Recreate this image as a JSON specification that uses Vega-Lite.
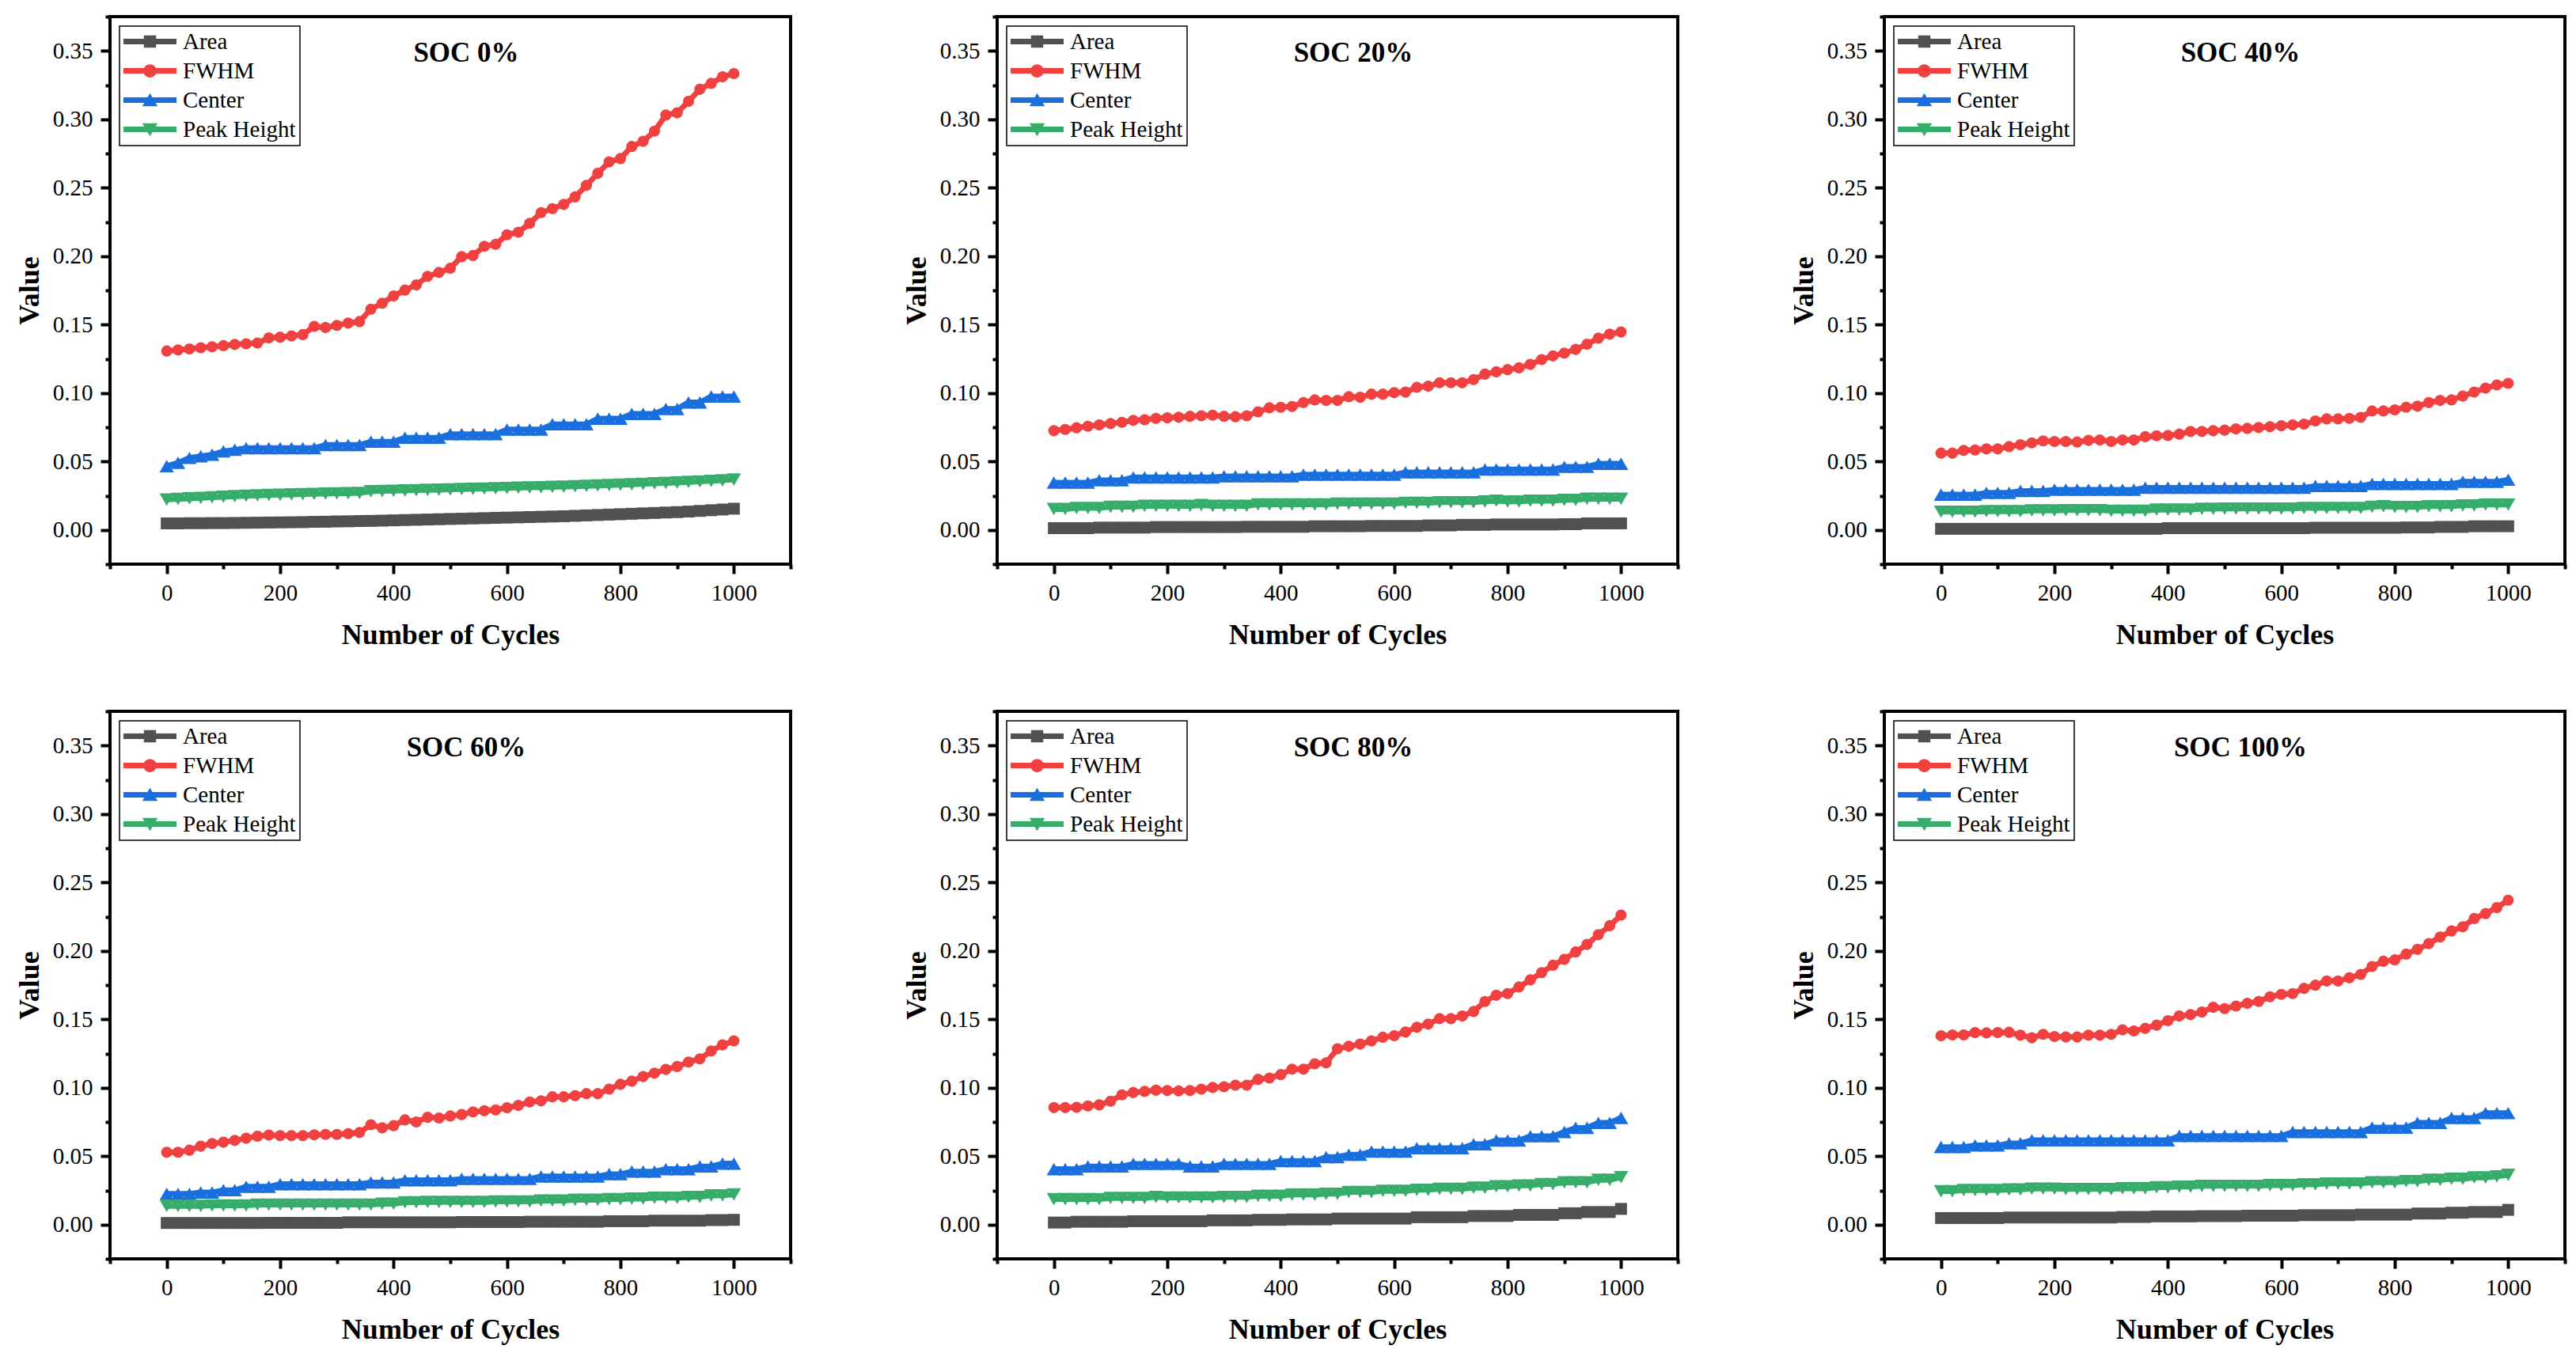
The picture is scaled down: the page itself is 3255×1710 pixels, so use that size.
{
  "$schema": "https://vega.github.io/schema/vega-lite/v6.json",
  "background": "white",
  "padding": {"left": 17, "top": 17, "right": 5, "bottom": 5},
  "config": {
    "font": "Liberation Serif",
    "view": {"stroke": "black", "strokeWidth": 4},
    "line": {"strokeWidth": 7},
    "axis": {
      "domain": false, "grid": false,
      "tickColor": "black", "tickWidth": 4, "tickSize": 12,
      "labelFont": "Liberation Serif", "labelFontSize": 29, "labelColor": "black",
      "labelPadding": 10, "labelFlush": false, "labelOverlap": false,
      "titleFont": "Liberation Serif", "titleFontSize": 36, "titleFontWeight": "bold", "titleColor": "black"
    },
    "axisX": {"titlePadding": 21},
    "axisY": {"titlePadding": 10},
    "legend": {
      "orient": "top-left", "offset": 12, "padding": 5,
      "strokeColor": "black", "strokeWidth": 1.5, "fillColor": "white",
      "labelFont": "Liberation Serif", "labelFontSize": 29, "labelColor": "black",
      "labelOffset": 8, "labelLimit": 400, "symbolSize": 4489, "symbolStrokeWidth": 0,
      "clipHeight": 29, "rowPadding": 7
    },
    "title": {"font": "Liberation Serif", "fontSize": 35, "fontWeight": "bold", "color": "black", "anchor": "middle", "offset": -66, "dx": 20}
  },
  "datasets": {
    "p0_area": [{"cycle":0,"value":0.0048},{"cycle":20,"value":0.0048},{"cycle":40,"value":0.0049},{"cycle":60,"value":0.0049},{"cycle":80,"value":0.0050},{"cycle":100,"value":0.0050},{"cycle":120,"value":0.0051},{"cycle":140,"value":0.0052},{"cycle":160,"value":0.0053},{"cycle":180,"value":0.0054},{"cycle":200,"value":0.0055},{"cycle":220,"value":0.0056},{"cycle":240,"value":0.0057},{"cycle":260,"value":0.0059},{"cycle":280,"value":0.0060},{"cycle":300,"value":0.0062},{"cycle":320,"value":0.0063},{"cycle":340,"value":0.0065},{"cycle":360,"value":0.0066},{"cycle":380,"value":0.0068},{"cycle":400,"value":0.0070},{"cycle":420,"value":0.0072},{"cycle":440,"value":0.0074},{"cycle":460,"value":0.0076},{"cycle":480,"value":0.0078},{"cycle":500,"value":0.0080},{"cycle":520,"value":0.0082},{"cycle":540,"value":0.0084},{"cycle":560,"value":0.0086},{"cycle":580,"value":0.0088},{"cycle":600,"value":0.0090},{"cycle":620,"value":0.0092},{"cycle":640,"value":0.0094},{"cycle":660,"value":0.0096},{"cycle":680,"value":0.0098},{"cycle":700,"value":0.0100},{"cycle":720,"value":0.0103},{"cycle":740,"value":0.0106},{"cycle":760,"value":0.0109},{"cycle":780,"value":0.0112},{"cycle":800,"value":0.0115},{"cycle":820,"value":0.0118},{"cycle":840,"value":0.0121},{"cycle":860,"value":0.0124},{"cycle":880,"value":0.0127},{"cycle":900,"value":0.0130},{"cycle":920,"value":0.0134},{"cycle":940,"value":0.0139},{"cycle":960,"value":0.0144},{"cycle":980,"value":0.0149},{"cycle":1000,"value":0.0155}],
    "p0_fwhm": [{"cycle":0,"value":0.1307},{"cycle":20,"value":0.1315},{"cycle":40,"value":0.1322},{"cycle":60,"value":0.1331},{"cycle":80,"value":0.1338},{"cycle":100,"value":0.1346},{"cycle":120,"value":0.1355},{"cycle":140,"value":0.1360},{"cycle":160,"value":0.1365},{"cycle":180,"value":0.1403},{"cycle":200,"value":0.1408},{"cycle":220,"value":0.1417},{"cycle":240,"value":0.1427},{"cycle":260,"value":0.1487},{"cycle":280,"value":0.1479},{"cycle":300,"value":0.1494},{"cycle":320,"value":0.1511},{"cycle":340,"value":0.1522},{"cycle":360,"value":0.1613},{"cycle":380,"value":0.1656},{"cycle":400,"value":0.1709},{"cycle":420,"value":0.1752},{"cycle":440,"value":0.1790},{"cycle":460,"value":0.1852},{"cycle":480,"value":0.1881},{"cycle":500,"value":0.1912},{"cycle":520,"value":0.1996},{"cycle":540,"value":0.2005},{"cycle":560,"value":0.2072},{"cycle":580,"value":0.2087},{"cycle":600,"value":0.2156},{"cycle":620,"value":0.2175},{"cycle":640,"value":0.2240},{"cycle":660,"value":0.2318},{"cycle":680,"value":0.2347},{"cycle":700,"value":0.2378},{"cycle":720,"value":0.2433},{"cycle":740,"value":0.2517},{"cycle":760,"value":0.2605},{"cycle":780,"value":0.2689},{"cycle":800,"value":0.2713},{"cycle":820,"value":0.2801},{"cycle":840,"value":0.2839},{"cycle":860,"value":0.2913},{"cycle":880,"value":0.3031},{"cycle":900,"value":0.3047},{"cycle":920,"value":0.3131},{"cycle":940,"value":0.3219},{"cycle":960,"value":0.3262},{"cycle":980,"value":0.3310},{"cycle":1000,"value":0.3334}],
    "p0_center": [{"cycle":0,"value":0.0466},{"cycle":20,"value":0.0490},{"cycle":40,"value":0.0526},{"cycle":60,"value":0.0538},{"cycle":80,"value":0.0550},{"cycle":100,"value":0.0574},{"cycle":120,"value":0.0586},{"cycle":140,"value":0.0598},{"cycle":160,"value":0.0598},{"cycle":180,"value":0.0598},{"cycle":200,"value":0.0598},{"cycle":220,"value":0.0598},{"cycle":240,"value":0.0598},{"cycle":260,"value":0.0598},{"cycle":280,"value":0.0621},{"cycle":300,"value":0.0621},{"cycle":320,"value":0.0621},{"cycle":340,"value":0.0621},{"cycle":360,"value":0.0645},{"cycle":380,"value":0.0645},{"cycle":400,"value":0.0645},{"cycle":420,"value":0.0674},{"cycle":440,"value":0.0674},{"cycle":460,"value":0.0674},{"cycle":480,"value":0.0674},{"cycle":500,"value":0.0700},{"cycle":520,"value":0.0700},{"cycle":540,"value":0.0700},{"cycle":560,"value":0.0700},{"cycle":580,"value":0.0700},{"cycle":600,"value":0.0734},{"cycle":620,"value":0.0734},{"cycle":640,"value":0.0734},{"cycle":660,"value":0.0734},{"cycle":680,"value":0.0772},{"cycle":700,"value":0.0772},{"cycle":720,"value":0.0772},{"cycle":740,"value":0.0772},{"cycle":760,"value":0.0813},{"cycle":780,"value":0.0813},{"cycle":800,"value":0.0813},{"cycle":820,"value":0.0848},{"cycle":840,"value":0.0848},{"cycle":860,"value":0.0848},{"cycle":880,"value":0.0884},{"cycle":900,"value":0.0884},{"cycle":920,"value":0.0932},{"cycle":940,"value":0.0932},{"cycle":960,"value":0.0975},{"cycle":980,"value":0.0975},{"cycle":1000,"value":0.0975}],
    "p0_peak": [{"cycle":0,"value":0.0222},{"cycle":20,"value":0.0226},{"cycle":40,"value":0.0230},{"cycle":60,"value":0.0234},{"cycle":80,"value":0.0238},{"cycle":100,"value":0.0242},{"cycle":120,"value":0.0246},{"cycle":140,"value":0.0249},{"cycle":160,"value":0.0252},{"cycle":180,"value":0.0255},{"cycle":200,"value":0.0257},{"cycle":220,"value":0.0259},{"cycle":240,"value":0.0261},{"cycle":260,"value":0.0263},{"cycle":280,"value":0.0265},{"cycle":300,"value":0.0267},{"cycle":320,"value":0.0268},{"cycle":340,"value":0.0270},{"cycle":360,"value":0.0282},{"cycle":380,"value":0.0284},{"cycle":400,"value":0.0286},{"cycle":420,"value":0.0288},{"cycle":440,"value":0.0290},{"cycle":460,"value":0.0292},{"cycle":480,"value":0.0294},{"cycle":500,"value":0.0296},{"cycle":520,"value":0.0298},{"cycle":540,"value":0.0300},{"cycle":560,"value":0.0302},{"cycle":580,"value":0.0304},{"cycle":600,"value":0.0306},{"cycle":620,"value":0.0308},{"cycle":640,"value":0.0310},{"cycle":660,"value":0.0312},{"cycle":680,"value":0.0314},{"cycle":700,"value":0.0316},{"cycle":720,"value":0.0318},{"cycle":740,"value":0.0321},{"cycle":760,"value":0.0324},{"cycle":780,"value":0.0327},{"cycle":800,"value":0.0330},{"cycle":820,"value":0.0333},{"cycle":840,"value":0.0336},{"cycle":860,"value":0.0340},{"cycle":880,"value":0.0343},{"cycle":900,"value":0.0346},{"cycle":920,"value":0.0350},{"cycle":940,"value":0.0354},{"cycle":960,"value":0.0358},{"cycle":980,"value":0.0362},{"cycle":1000,"value":0.0368}],
    "p1_area": [{"cycle":0,"value":0.0013},{"cycle":20,"value":0.0013},{"cycle":40,"value":0.0013},{"cycle":60,"value":0.0013},{"cycle":80,"value":0.0017},{"cycle":100,"value":0.0017},{"cycle":120,"value":0.0017},{"cycle":140,"value":0.0017},{"cycle":160,"value":0.0017},{"cycle":180,"value":0.0021},{"cycle":200,"value":0.0021},{"cycle":220,"value":0.0021},{"cycle":240,"value":0.0021},{"cycle":260,"value":0.0021},{"cycle":280,"value":0.0021},{"cycle":300,"value":0.0021},{"cycle":320,"value":0.0021},{"cycle":340,"value":0.0023},{"cycle":360,"value":0.0023},{"cycle":380,"value":0.0023},{"cycle":400,"value":0.0023},{"cycle":420,"value":0.0023},{"cycle":440,"value":0.0023},{"cycle":460,"value":0.0027},{"cycle":480,"value":0.0027},{"cycle":500,"value":0.0027},{"cycle":520,"value":0.0027},{"cycle":540,"value":0.0027},{"cycle":560,"value":0.0029},{"cycle":580,"value":0.0029},{"cycle":600,"value":0.0029},{"cycle":620,"value":0.0029},{"cycle":640,"value":0.0029},{"cycle":660,"value":0.0033},{"cycle":680,"value":0.0033},{"cycle":700,"value":0.0033},{"cycle":720,"value":0.0037},{"cycle":740,"value":0.0037},{"cycle":760,"value":0.0037},{"cycle":780,"value":0.0040},{"cycle":800,"value":0.0040},{"cycle":820,"value":0.0040},{"cycle":840,"value":0.0040},{"cycle":860,"value":0.0040},{"cycle":880,"value":0.0040},{"cycle":900,"value":0.0042},{"cycle":920,"value":0.0042},{"cycle":940,"value":0.0048},{"cycle":960,"value":0.0048},{"cycle":980,"value":0.0048},{"cycle":1000,"value":0.0048}],
    "p1_fwhm": [{"cycle":0,"value":0.0725},{"cycle":20,"value":0.0734},{"cycle":40,"value":0.0746},{"cycle":60,"value":0.0757},{"cycle":80,"value":0.0767},{"cycle":100,"value":0.0777},{"cycle":120,"value":0.0786},{"cycle":140,"value":0.0800},{"cycle":160,"value":0.0805},{"cycle":180,"value":0.0815},{"cycle":200,"value":0.0819},{"cycle":220,"value":0.0823},{"cycle":240,"value":0.0830},{"cycle":260,"value":0.0834},{"cycle":280,"value":0.0838},{"cycle":300,"value":0.0830},{"cycle":320,"value":0.0827},{"cycle":340,"value":0.0834},{"cycle":360,"value":0.0863},{"cycle":380,"value":0.0892},{"cycle":400,"value":0.0896},{"cycle":420,"value":0.0902},{"cycle":440,"value":0.0930},{"cycle":460,"value":0.0950},{"cycle":480,"value":0.0946},{"cycle":500,"value":0.0946},{"cycle":520,"value":0.0973},{"cycle":540,"value":0.0969},{"cycle":560,"value":0.0992},{"cycle":580,"value":0.0992},{"cycle":600,"value":0.1003},{"cycle":620,"value":0.1007},{"cycle":640,"value":0.1042},{"cycle":660,"value":0.1050},{"cycle":680,"value":0.1075},{"cycle":700,"value":0.1075},{"cycle":720,"value":0.1075},{"cycle":740,"value":0.1098},{"cycle":760,"value":0.1138},{"cycle":780,"value":0.1155},{"cycle":800,"value":0.1171},{"cycle":820,"value":0.1184},{"cycle":840,"value":0.1209},{"cycle":860,"value":0.1244},{"cycle":880,"value":0.1271},{"cycle":900,"value":0.1292},{"cycle":920,"value":0.1319},{"cycle":940,"value":0.1357},{"cycle":960,"value":0.1401},{"cycle":980,"value":0.1430},{"cycle":1000,"value":0.1446}],
    "p1_center": [{"cycle":0,"value":0.0346},{"cycle":20,"value":0.0346},{"cycle":40,"value":0.0346},{"cycle":60,"value":0.0346},{"cycle":80,"value":0.0363},{"cycle":100,"value":0.0363},{"cycle":120,"value":0.0363},{"cycle":140,"value":0.0384},{"cycle":160,"value":0.0384},{"cycle":180,"value":0.0384},{"cycle":200,"value":0.0384},{"cycle":220,"value":0.0384},{"cycle":240,"value":0.0384},{"cycle":260,"value":0.0384},{"cycle":280,"value":0.0384},{"cycle":300,"value":0.0392},{"cycle":320,"value":0.0392},{"cycle":340,"value":0.0392},{"cycle":360,"value":0.0392},{"cycle":380,"value":0.0392},{"cycle":400,"value":0.0392},{"cycle":420,"value":0.0392},{"cycle":440,"value":0.0404},{"cycle":460,"value":0.0404},{"cycle":480,"value":0.0404},{"cycle":500,"value":0.0404},{"cycle":520,"value":0.0404},{"cycle":540,"value":0.0404},{"cycle":560,"value":0.0404},{"cycle":580,"value":0.0404},{"cycle":600,"value":0.0404},{"cycle":620,"value":0.0421},{"cycle":640,"value":0.0421},{"cycle":660,"value":0.0421},{"cycle":680,"value":0.0421},{"cycle":700,"value":0.0421},{"cycle":720,"value":0.0421},{"cycle":740,"value":0.0421},{"cycle":760,"value":0.0442},{"cycle":780,"value":0.0442},{"cycle":800,"value":0.0442},{"cycle":820,"value":0.0442},{"cycle":840,"value":0.0442},{"cycle":860,"value":0.0442},{"cycle":880,"value":0.0442},{"cycle":900,"value":0.0461},{"cycle":920,"value":0.0461},{"cycle":940,"value":0.0461},{"cycle":960,"value":0.0484},{"cycle":980,"value":0.0484},{"cycle":1000,"value":0.0484}],
    "p1_peak": [{"cycle":0,"value":0.0152},{"cycle":20,"value":0.0152},{"cycle":40,"value":0.0160},{"cycle":60,"value":0.0160},{"cycle":80,"value":0.0160},{"cycle":100,"value":0.0169},{"cycle":120,"value":0.0169},{"cycle":140,"value":0.0169},{"cycle":160,"value":0.0175},{"cycle":180,"value":0.0175},{"cycle":200,"value":0.0175},{"cycle":220,"value":0.0175},{"cycle":240,"value":0.0175},{"cycle":260,"value":0.0181},{"cycle":280,"value":0.0175},{"cycle":300,"value":0.0175},{"cycle":320,"value":0.0175},{"cycle":340,"value":0.0175},{"cycle":360,"value":0.0186},{"cycle":380,"value":0.0186},{"cycle":400,"value":0.0186},{"cycle":420,"value":0.0186},{"cycle":440,"value":0.0186},{"cycle":460,"value":0.0186},{"cycle":480,"value":0.0186},{"cycle":500,"value":0.0192},{"cycle":520,"value":0.0192},{"cycle":540,"value":0.0192},{"cycle":560,"value":0.0192},{"cycle":580,"value":0.0192},{"cycle":600,"value":0.0192},{"cycle":620,"value":0.0198},{"cycle":640,"value":0.0198},{"cycle":660,"value":0.0198},{"cycle":680,"value":0.0202},{"cycle":700,"value":0.0202},{"cycle":720,"value":0.0202},{"cycle":740,"value":0.0202},{"cycle":760,"value":0.0208},{"cycle":780,"value":0.0213},{"cycle":800,"value":0.0208},{"cycle":820,"value":0.0208},{"cycle":840,"value":0.0213},{"cycle":860,"value":0.0213},{"cycle":880,"value":0.0213},{"cycle":900,"value":0.0219},{"cycle":920,"value":0.0219},{"cycle":940,"value":0.0227},{"cycle":960,"value":0.0227},{"cycle":980,"value":0.0227},{"cycle":1000,"value":0.0227}],
    "p2_area": [{"cycle":0,"value":0.0008},{"cycle":20,"value":0.0008},{"cycle":40,"value":0.0008},{"cycle":60,"value":0.0008},{"cycle":80,"value":0.0008},{"cycle":100,"value":0.0008},{"cycle":120,"value":0.0008},{"cycle":140,"value":0.0008},{"cycle":160,"value":0.0008},{"cycle":180,"value":0.0008},{"cycle":200,"value":0.0008},{"cycle":220,"value":0.0008},{"cycle":240,"value":0.0008},{"cycle":260,"value":0.0008},{"cycle":280,"value":0.0008},{"cycle":300,"value":0.0008},{"cycle":320,"value":0.0008},{"cycle":340,"value":0.0008},{"cycle":360,"value":0.0008},{"cycle":380,"value":0.0008},{"cycle":400,"value":0.0013},{"cycle":420,"value":0.0013},{"cycle":440,"value":0.0013},{"cycle":460,"value":0.0013},{"cycle":480,"value":0.0013},{"cycle":500,"value":0.0013},{"cycle":520,"value":0.0013},{"cycle":540,"value":0.0013},{"cycle":560,"value":0.0013},{"cycle":580,"value":0.0013},{"cycle":600,"value":0.0013},{"cycle":620,"value":0.0013},{"cycle":640,"value":0.0013},{"cycle":660,"value":0.0016},{"cycle":680,"value":0.0016},{"cycle":700,"value":0.0016},{"cycle":720,"value":0.0016},{"cycle":740,"value":0.0016},{"cycle":760,"value":0.0016},{"cycle":780,"value":0.0016},{"cycle":800,"value":0.0016},{"cycle":820,"value":0.0018},{"cycle":840,"value":0.0018},{"cycle":860,"value":0.0018},{"cycle":880,"value":0.0022},{"cycle":900,"value":0.0022},{"cycle":920,"value":0.0022},{"cycle":940,"value":0.0027},{"cycle":960,"value":0.0027},{"cycle":980,"value":0.0027},{"cycle":1000,"value":0.0027}],
    "p2_fwhm": [{"cycle":0,"value":0.0561},{"cycle":20,"value":0.0561},{"cycle":40,"value":0.0581},{"cycle":60,"value":0.0584},{"cycle":80,"value":0.0592},{"cycle":100,"value":0.0592},{"cycle":120,"value":0.0609},{"cycle":140,"value":0.0623},{"cycle":160,"value":0.0636},{"cycle":180,"value":0.0650},{"cycle":200,"value":0.0646},{"cycle":220,"value":0.0646},{"cycle":240,"value":0.0642},{"cycle":260,"value":0.0654},{"cycle":280,"value":0.0657},{"cycle":300,"value":0.0646},{"cycle":320,"value":0.0657},{"cycle":340,"value":0.0657},{"cycle":360,"value":0.0681},{"cycle":380,"value":0.0688},{"cycle":400,"value":0.0690},{"cycle":420,"value":0.0700},{"cycle":440,"value":0.0719},{"cycle":460,"value":0.0719},{"cycle":480,"value":0.0725},{"cycle":500,"value":0.0729},{"cycle":520,"value":0.0738},{"cycle":540,"value":0.0742},{"cycle":560,"value":0.0748},{"cycle":580,"value":0.0754},{"cycle":600,"value":0.0761},{"cycle":620,"value":0.0767},{"cycle":640,"value":0.0773},{"cycle":660,"value":0.0796},{"cycle":680,"value":0.0811},{"cycle":700,"value":0.0811},{"cycle":720,"value":0.0815},{"cycle":740,"value":0.0822},{"cycle":760,"value":0.0869},{"cycle":780,"value":0.0869},{"cycle":800,"value":0.0877},{"cycle":820,"value":0.0896},{"cycle":840,"value":0.0904},{"cycle":860,"value":0.0930},{"cycle":880,"value":0.0946},{"cycle":900,"value":0.0950},{"cycle":920,"value":0.0978},{"cycle":940,"value":0.1007},{"cycle":960,"value":0.1036},{"cycle":980,"value":0.1059},{"cycle":1000,"value":0.1071}],
    "p2_center": [{"cycle":0,"value":0.0258},{"cycle":20,"value":0.0258},{"cycle":40,"value":0.0258},{"cycle":60,"value":0.0258},{"cycle":80,"value":0.0271},{"cycle":100,"value":0.0271},{"cycle":120,"value":0.0271},{"cycle":140,"value":0.0285},{"cycle":160,"value":0.0285},{"cycle":180,"value":0.0285},{"cycle":200,"value":0.0294},{"cycle":220,"value":0.0294},{"cycle":240,"value":0.0294},{"cycle":260,"value":0.0294},{"cycle":280,"value":0.0294},{"cycle":300,"value":0.0294},{"cycle":320,"value":0.0294},{"cycle":340,"value":0.0294},{"cycle":360,"value":0.0308},{"cycle":380,"value":0.0308},{"cycle":400,"value":0.0308},{"cycle":420,"value":0.0308},{"cycle":440,"value":0.0308},{"cycle":460,"value":0.0308},{"cycle":480,"value":0.0308},{"cycle":500,"value":0.0308},{"cycle":520,"value":0.0308},{"cycle":540,"value":0.0308},{"cycle":560,"value":0.0308},{"cycle":580,"value":0.0308},{"cycle":600,"value":0.0308},{"cycle":620,"value":0.0308},{"cycle":640,"value":0.0308},{"cycle":660,"value":0.0321},{"cycle":680,"value":0.0321},{"cycle":700,"value":0.0321},{"cycle":720,"value":0.0321},{"cycle":740,"value":0.0321},{"cycle":760,"value":0.0336},{"cycle":780,"value":0.0336},{"cycle":800,"value":0.0336},{"cycle":820,"value":0.0336},{"cycle":840,"value":0.0336},{"cycle":860,"value":0.0336},{"cycle":880,"value":0.0336},{"cycle":900,"value":0.0336},{"cycle":920,"value":0.0352},{"cycle":940,"value":0.0352},{"cycle":960,"value":0.0352},{"cycle":980,"value":0.0352},{"cycle":1000,"value":0.0367}],
    "p2_peak": [{"cycle":0,"value":0.0133},{"cycle":20,"value":0.0133},{"cycle":40,"value":0.0133},{"cycle":60,"value":0.0133},{"cycle":80,"value":0.0136},{"cycle":100,"value":0.0136},{"cycle":120,"value":0.0136},{"cycle":140,"value":0.0136},{"cycle":160,"value":0.0142},{"cycle":180,"value":0.0142},{"cycle":200,"value":0.0142},{"cycle":220,"value":0.0144},{"cycle":240,"value":0.0144},{"cycle":260,"value":0.0144},{"cycle":280,"value":0.0144},{"cycle":300,"value":0.0140},{"cycle":320,"value":0.0140},{"cycle":340,"value":0.0140},{"cycle":360,"value":0.0140},{"cycle":380,"value":0.0148},{"cycle":400,"value":0.0148},{"cycle":420,"value":0.0148},{"cycle":440,"value":0.0148},{"cycle":460,"value":0.0154},{"cycle":480,"value":0.0154},{"cycle":500,"value":0.0156},{"cycle":520,"value":0.0156},{"cycle":540,"value":0.0156},{"cycle":560,"value":0.0156},{"cycle":580,"value":0.0156},{"cycle":600,"value":0.0156},{"cycle":620,"value":0.0156},{"cycle":640,"value":0.0160},{"cycle":660,"value":0.0160},{"cycle":680,"value":0.0160},{"cycle":700,"value":0.0160},{"cycle":720,"value":0.0160},{"cycle":740,"value":0.0160},{"cycle":760,"value":0.0169},{"cycle":780,"value":0.0173},{"cycle":800,"value":0.0167},{"cycle":820,"value":0.0167},{"cycle":840,"value":0.0167},{"cycle":860,"value":0.0173},{"cycle":880,"value":0.0173},{"cycle":900,"value":0.0173},{"cycle":920,"value":0.0179},{"cycle":940,"value":0.0179},{"cycle":960,"value":0.0185},{"cycle":980,"value":0.0185},{"cycle":1000,"value":0.0185}],
    "p3_area": [{"cycle":0,"value":0.0012},{"cycle":20,"value":0.0012},{"cycle":40,"value":0.0012},{"cycle":60,"value":0.0012},{"cycle":80,"value":0.0012},{"cycle":100,"value":0.0012},{"cycle":120,"value":0.0012},{"cycle":140,"value":0.0012},{"cycle":160,"value":0.0012},{"cycle":180,"value":0.0013},{"cycle":200,"value":0.0013},{"cycle":220,"value":0.0013},{"cycle":240,"value":0.0013},{"cycle":260,"value":0.0013},{"cycle":280,"value":0.0013},{"cycle":300,"value":0.0013},{"cycle":320,"value":0.0017},{"cycle":340,"value":0.0017},{"cycle":360,"value":0.0017},{"cycle":380,"value":0.0017},{"cycle":400,"value":0.0017},{"cycle":420,"value":0.0017},{"cycle":440,"value":0.0017},{"cycle":460,"value":0.0017},{"cycle":480,"value":0.0017},{"cycle":500,"value":0.0017},{"cycle":520,"value":0.0019},{"cycle":540,"value":0.0019},{"cycle":560,"value":0.0019},{"cycle":580,"value":0.0019},{"cycle":600,"value":0.0019},{"cycle":620,"value":0.0019},{"cycle":640,"value":0.0021},{"cycle":660,"value":0.0021},{"cycle":680,"value":0.0021},{"cycle":700,"value":0.0021},{"cycle":720,"value":0.0021},{"cycle":740,"value":0.0021},{"cycle":760,"value":0.0021},{"cycle":780,"value":0.0025},{"cycle":800,"value":0.0025},{"cycle":820,"value":0.0025},{"cycle":840,"value":0.0025},{"cycle":860,"value":0.0029},{"cycle":880,"value":0.0029},{"cycle":900,"value":0.0029},{"cycle":920,"value":0.0029},{"cycle":940,"value":0.0029},{"cycle":960,"value":0.0033},{"cycle":980,"value":0.0033},{"cycle":1000,"value":0.0035}],
    "p3_fwhm": [{"cycle":0,"value":0.0529},{"cycle":20,"value":0.0529},{"cycle":40,"value":0.0544},{"cycle":60,"value":0.0573},{"cycle":80,"value":0.0592},{"cycle":100,"value":0.0602},{"cycle":120,"value":0.0615},{"cycle":140,"value":0.0631},{"cycle":160,"value":0.0646},{"cycle":180,"value":0.0654},{"cycle":200,"value":0.0650},{"cycle":220,"value":0.0650},{"cycle":240,"value":0.0650},{"cycle":260,"value":0.0656},{"cycle":280,"value":0.0659},{"cycle":300,"value":0.0659},{"cycle":320,"value":0.0665},{"cycle":340,"value":0.0673},{"cycle":360,"value":0.0730},{"cycle":380,"value":0.0707},{"cycle":400,"value":0.0723},{"cycle":420,"value":0.0765},{"cycle":440,"value":0.0750},{"cycle":460,"value":0.0784},{"cycle":480,"value":0.0779},{"cycle":500,"value":0.0794},{"cycle":520,"value":0.0804},{"cycle":540,"value":0.0823},{"cycle":560,"value":0.0832},{"cycle":580,"value":0.0838},{"cycle":600,"value":0.0854},{"cycle":620,"value":0.0871},{"cycle":640,"value":0.0896},{"cycle":660,"value":0.0904},{"cycle":680,"value":0.0934},{"cycle":700,"value":0.0934},{"cycle":720,"value":0.0942},{"cycle":740,"value":0.0957},{"cycle":760,"value":0.0957},{"cycle":780,"value":0.0990},{"cycle":800,"value":0.1025},{"cycle":820,"value":0.1048},{"cycle":840,"value":0.1082},{"cycle":860,"value":0.1107},{"cycle":880,"value":0.1134},{"cycle":900,"value":0.1155},{"cycle":920,"value":0.1188},{"cycle":940,"value":0.1211},{"cycle":960,"value":0.1269},{"cycle":980,"value":0.1313},{"cycle":1000,"value":0.1342}],
    "p3_center": [{"cycle":0,"value":0.0225},{"cycle":20,"value":0.0225},{"cycle":40,"value":0.0225},{"cycle":60,"value":0.0235},{"cycle":80,"value":0.0235},{"cycle":100,"value":0.0252},{"cycle":120,"value":0.0252},{"cycle":140,"value":0.0277},{"cycle":160,"value":0.0277},{"cycle":180,"value":0.0277},{"cycle":200,"value":0.0296},{"cycle":220,"value":0.0296},{"cycle":240,"value":0.0296},{"cycle":260,"value":0.0296},{"cycle":280,"value":0.0296},{"cycle":300,"value":0.0296},{"cycle":320,"value":0.0296},{"cycle":340,"value":0.0296},{"cycle":360,"value":0.0308},{"cycle":380,"value":0.0308},{"cycle":400,"value":0.0308},{"cycle":420,"value":0.0325},{"cycle":440,"value":0.0325},{"cycle":460,"value":0.0325},{"cycle":480,"value":0.0325},{"cycle":500,"value":0.0325},{"cycle":520,"value":0.0334},{"cycle":540,"value":0.0334},{"cycle":560,"value":0.0334},{"cycle":580,"value":0.0334},{"cycle":600,"value":0.0334},{"cycle":620,"value":0.0334},{"cycle":640,"value":0.0334},{"cycle":660,"value":0.0352},{"cycle":680,"value":0.0352},{"cycle":700,"value":0.0352},{"cycle":720,"value":0.0352},{"cycle":740,"value":0.0352},{"cycle":760,"value":0.0352},{"cycle":780,"value":0.0369},{"cycle":800,"value":0.0369},{"cycle":820,"value":0.0388},{"cycle":840,"value":0.0388},{"cycle":860,"value":0.0388},{"cycle":880,"value":0.0406},{"cycle":900,"value":0.0406},{"cycle":920,"value":0.0406},{"cycle":940,"value":0.0425},{"cycle":960,"value":0.0425},{"cycle":980,"value":0.0446},{"cycle":1000,"value":0.0446}],
    "p3_peak": [{"cycle":0,"value":0.0136},{"cycle":20,"value":0.0136},{"cycle":40,"value":0.0136},{"cycle":60,"value":0.0136},{"cycle":80,"value":0.0140},{"cycle":100,"value":0.0140},{"cycle":120,"value":0.0140},{"cycle":140,"value":0.0140},{"cycle":160,"value":0.0146},{"cycle":180,"value":0.0146},{"cycle":200,"value":0.0146},{"cycle":220,"value":0.0146},{"cycle":240,"value":0.0146},{"cycle":260,"value":0.0146},{"cycle":280,"value":0.0146},{"cycle":300,"value":0.0146},{"cycle":320,"value":0.0146},{"cycle":340,"value":0.0146},{"cycle":360,"value":0.0146},{"cycle":380,"value":0.0152},{"cycle":400,"value":0.0152},{"cycle":420,"value":0.0163},{"cycle":440,"value":0.0163},{"cycle":460,"value":0.0165},{"cycle":480,"value":0.0165},{"cycle":500,"value":0.0165},{"cycle":520,"value":0.0165},{"cycle":540,"value":0.0165},{"cycle":560,"value":0.0165},{"cycle":580,"value":0.0169},{"cycle":600,"value":0.0169},{"cycle":620,"value":0.0169},{"cycle":640,"value":0.0169},{"cycle":660,"value":0.0175},{"cycle":680,"value":0.0175},{"cycle":700,"value":0.0175},{"cycle":720,"value":0.0181},{"cycle":740,"value":0.0181},{"cycle":760,"value":0.0181},{"cycle":780,"value":0.0186},{"cycle":800,"value":0.0186},{"cycle":820,"value":0.0190},{"cycle":840,"value":0.0190},{"cycle":860,"value":0.0196},{"cycle":880,"value":0.0196},{"cycle":900,"value":0.0196},{"cycle":920,"value":0.0202},{"cycle":940,"value":0.0202},{"cycle":960,"value":0.0213},{"cycle":980,"value":0.0213},{"cycle":1000,"value":0.0221}],
    "p4_area": [{"cycle":0,"value":0.0015},{"cycle":20,"value":0.0015},{"cycle":40,"value":0.0021},{"cycle":60,"value":0.0021},{"cycle":80,"value":0.0021},{"cycle":100,"value":0.0021},{"cycle":120,"value":0.0021},{"cycle":140,"value":0.0025},{"cycle":160,"value":0.0025},{"cycle":180,"value":0.0025},{"cycle":200,"value":0.0025},{"cycle":220,"value":0.0025},{"cycle":240,"value":0.0025},{"cycle":260,"value":0.0025},{"cycle":280,"value":0.0031},{"cycle":300,"value":0.0031},{"cycle":320,"value":0.0031},{"cycle":340,"value":0.0031},{"cycle":360,"value":0.0035},{"cycle":380,"value":0.0035},{"cycle":400,"value":0.0035},{"cycle":420,"value":0.0038},{"cycle":440,"value":0.0038},{"cycle":460,"value":0.0038},{"cycle":480,"value":0.0038},{"cycle":500,"value":0.0044},{"cycle":520,"value":0.0044},{"cycle":540,"value":0.0044},{"cycle":560,"value":0.0044},{"cycle":580,"value":0.0044},{"cycle":600,"value":0.0044},{"cycle":620,"value":0.0044},{"cycle":640,"value":0.0054},{"cycle":660,"value":0.0054},{"cycle":680,"value":0.0054},{"cycle":700,"value":0.0054},{"cycle":720,"value":0.0054},{"cycle":740,"value":0.0063},{"cycle":760,"value":0.0063},{"cycle":780,"value":0.0063},{"cycle":800,"value":0.0063},{"cycle":820,"value":0.0071},{"cycle":840,"value":0.0071},{"cycle":860,"value":0.0071},{"cycle":880,"value":0.0071},{"cycle":900,"value":0.0083},{"cycle":920,"value":0.0083},{"cycle":940,"value":0.0092},{"cycle":960,"value":0.0092},{"cycle":980,"value":0.0092},{"cycle":1000,"value":0.0115}],
    "p4_fwhm": [{"cycle":0,"value":0.0855},{"cycle":20,"value":0.0855},{"cycle":40,"value":0.0857},{"cycle":60,"value":0.0867},{"cycle":80,"value":0.0875},{"cycle":100,"value":0.0902},{"cycle":120,"value":0.0948},{"cycle":140,"value":0.0965},{"cycle":160,"value":0.0973},{"cycle":180,"value":0.0982},{"cycle":200,"value":0.0980},{"cycle":220,"value":0.0977},{"cycle":240,"value":0.0980},{"cycle":260,"value":0.0990},{"cycle":280,"value":0.1002},{"cycle":300,"value":0.1007},{"cycle":320,"value":0.1019},{"cycle":340,"value":0.1019},{"cycle":360,"value":0.1061},{"cycle":380,"value":0.1071},{"cycle":400,"value":0.1096},{"cycle":420,"value":0.1136},{"cycle":440,"value":0.1136},{"cycle":460,"value":0.1175},{"cycle":480,"value":0.1182},{"cycle":500,"value":0.1284},{"cycle":520,"value":0.1303},{"cycle":540,"value":0.1319},{"cycle":560,"value":0.1342},{"cycle":580,"value":0.1369},{"cycle":600,"value":0.1380},{"cycle":620,"value":0.1407},{"cycle":640,"value":0.1442},{"cycle":660,"value":0.1465},{"cycle":680,"value":0.1505},{"cycle":700,"value":0.1505},{"cycle":720,"value":0.1524},{"cycle":740,"value":0.1557},{"cycle":760,"value":0.1630},{"cycle":780,"value":0.1676},{"cycle":800,"value":0.1688},{"cycle":820,"value":0.1736},{"cycle":840,"value":0.1788},{"cycle":860,"value":0.1841},{"cycle":880,"value":0.1895},{"cycle":900,"value":0.1938},{"cycle":920,"value":0.1992},{"cycle":940,"value":0.2047},{"cycle":960,"value":0.2118},{"cycle":980,"value":0.2184},{"cycle":1000,"value":0.2261}],
    "p4_center": [{"cycle":0,"value":0.0406},{"cycle":20,"value":0.0406},{"cycle":40,"value":0.0406},{"cycle":60,"value":0.0425},{"cycle":80,"value":0.0425},{"cycle":100,"value":0.0425},{"cycle":120,"value":0.0425},{"cycle":140,"value":0.0444},{"cycle":160,"value":0.0444},{"cycle":180,"value":0.0444},{"cycle":200,"value":0.0444},{"cycle":220,"value":0.0444},{"cycle":240,"value":0.0425},{"cycle":260,"value":0.0425},{"cycle":280,"value":0.0425},{"cycle":300,"value":0.0444},{"cycle":320,"value":0.0444},{"cycle":340,"value":0.0444},{"cycle":360,"value":0.0444},{"cycle":380,"value":0.0444},{"cycle":400,"value":0.0465},{"cycle":420,"value":0.0465},{"cycle":440,"value":0.0465},{"cycle":460,"value":0.0465},{"cycle":480,"value":0.0494},{"cycle":500,"value":0.0494},{"cycle":520,"value":0.0511},{"cycle":540,"value":0.0511},{"cycle":560,"value":0.0534},{"cycle":580,"value":0.0534},{"cycle":600,"value":0.0534},{"cycle":620,"value":0.0534},{"cycle":640,"value":0.0559},{"cycle":660,"value":0.0559},{"cycle":680,"value":0.0559},{"cycle":700,"value":0.0559},{"cycle":720,"value":0.0559},{"cycle":740,"value":0.0588},{"cycle":760,"value":0.0588},{"cycle":780,"value":0.0615},{"cycle":800,"value":0.0615},{"cycle":820,"value":0.0615},{"cycle":840,"value":0.0646},{"cycle":860,"value":0.0646},{"cycle":880,"value":0.0646},{"cycle":900,"value":0.0677},{"cycle":920,"value":0.0707},{"cycle":940,"value":0.0707},{"cycle":960,"value":0.0744},{"cycle":980,"value":0.0744},{"cycle":1000,"value":0.0780}],
    "p4_peak": [{"cycle":0,"value":0.0186},{"cycle":20,"value":0.0186},{"cycle":40,"value":0.0186},{"cycle":60,"value":0.0186},{"cycle":80,"value":0.0186},{"cycle":100,"value":0.0194},{"cycle":120,"value":0.0194},{"cycle":140,"value":0.0194},{"cycle":160,"value":0.0194},{"cycle":180,"value":0.0202},{"cycle":200,"value":0.0198},{"cycle":220,"value":0.0198},{"cycle":240,"value":0.0198},{"cycle":260,"value":0.0198},{"cycle":280,"value":0.0198},{"cycle":300,"value":0.0202},{"cycle":320,"value":0.0202},{"cycle":340,"value":0.0202},{"cycle":360,"value":0.0210},{"cycle":380,"value":0.0210},{"cycle":400,"value":0.0210},{"cycle":420,"value":0.0219},{"cycle":440,"value":0.0219},{"cycle":460,"value":0.0219},{"cycle":480,"value":0.0225},{"cycle":500,"value":0.0225},{"cycle":520,"value":0.0238},{"cycle":540,"value":0.0238},{"cycle":560,"value":0.0238},{"cycle":580,"value":0.0246},{"cycle":600,"value":0.0246},{"cycle":620,"value":0.0246},{"cycle":640,"value":0.0254},{"cycle":660,"value":0.0254},{"cycle":680,"value":0.0261},{"cycle":700,"value":0.0261},{"cycle":720,"value":0.0261},{"cycle":740,"value":0.0269},{"cycle":760,"value":0.0269},{"cycle":780,"value":0.0279},{"cycle":800,"value":0.0279},{"cycle":820,"value":0.0286},{"cycle":840,"value":0.0286},{"cycle":860,"value":0.0296},{"cycle":880,"value":0.0296},{"cycle":900,"value":0.0308},{"cycle":920,"value":0.0308},{"cycle":940,"value":0.0308},{"cycle":960,"value":0.0327},{"cycle":980,"value":0.0327},{"cycle":1000,"value":0.0346}],
    "p5_area": [{"cycle":0,"value":0.0048},{"cycle":20,"value":0.0048},{"cycle":40,"value":0.0048},{"cycle":60,"value":0.0048},{"cycle":80,"value":0.0048},{"cycle":100,"value":0.0048},{"cycle":120,"value":0.0052},{"cycle":140,"value":0.0052},{"cycle":160,"value":0.0052},{"cycle":180,"value":0.0052},{"cycle":200,"value":0.0052},{"cycle":220,"value":0.0052},{"cycle":240,"value":0.0052},{"cycle":260,"value":0.0052},{"cycle":280,"value":0.0052},{"cycle":300,"value":0.0052},{"cycle":320,"value":0.0056},{"cycle":340,"value":0.0056},{"cycle":360,"value":0.0056},{"cycle":380,"value":0.0060},{"cycle":400,"value":0.0060},{"cycle":420,"value":0.0060},{"cycle":440,"value":0.0060},{"cycle":460,"value":0.0062},{"cycle":480,"value":0.0062},{"cycle":500,"value":0.0062},{"cycle":520,"value":0.0062},{"cycle":540,"value":0.0065},{"cycle":560,"value":0.0065},{"cycle":580,"value":0.0065},{"cycle":600,"value":0.0065},{"cycle":620,"value":0.0065},{"cycle":640,"value":0.0069},{"cycle":660,"value":0.0069},{"cycle":680,"value":0.0069},{"cycle":700,"value":0.0069},{"cycle":720,"value":0.0069},{"cycle":740,"value":0.0073},{"cycle":760,"value":0.0073},{"cycle":780,"value":0.0073},{"cycle":800,"value":0.0073},{"cycle":820,"value":0.0073},{"cycle":840,"value":0.0081},{"cycle":860,"value":0.0081},{"cycle":880,"value":0.0081},{"cycle":900,"value":0.0087},{"cycle":920,"value":0.0087},{"cycle":940,"value":0.0092},{"cycle":960,"value":0.0092},{"cycle":980,"value":0.0092},{"cycle":1000,"value":0.0108}],
    "p5_fwhm": [{"cycle":0,"value":0.1380},{"cycle":20,"value":0.1386},{"cycle":40,"value":0.1386},{"cycle":60,"value":0.1403},{"cycle":80,"value":0.1401},{"cycle":100,"value":0.1403},{"cycle":120,"value":0.1405},{"cycle":140,"value":0.1384},{"cycle":160,"value":0.1365},{"cycle":180,"value":0.1390},{"cycle":200,"value":0.1374},{"cycle":220,"value":0.1371},{"cycle":240,"value":0.1371},{"cycle":260,"value":0.1384},{"cycle":280,"value":0.1384},{"cycle":300,"value":0.1390},{"cycle":320,"value":0.1423},{"cycle":340,"value":0.1415},{"cycle":360,"value":0.1434},{"cycle":380,"value":0.1457},{"cycle":400,"value":0.1490},{"cycle":420,"value":0.1524},{"cycle":440,"value":0.1534},{"cycle":460,"value":0.1553},{"cycle":480,"value":0.1588},{"cycle":500,"value":0.1578},{"cycle":520,"value":0.1597},{"cycle":540,"value":0.1617},{"cycle":560,"value":0.1630},{"cycle":580,"value":0.1665},{"cycle":600,"value":0.1682},{"cycle":620,"value":0.1688},{"cycle":640,"value":0.1726},{"cycle":660,"value":0.1749},{"cycle":680,"value":0.1780},{"cycle":700,"value":0.1780},{"cycle":720,"value":0.1803},{"cycle":740,"value":0.1828},{"cycle":760,"value":0.1886},{"cycle":780,"value":0.1924},{"cycle":800,"value":0.1934},{"cycle":820,"value":0.1976},{"cycle":840,"value":0.2011},{"cycle":860,"value":0.2053},{"cycle":880,"value":0.2101},{"cycle":900,"value":0.2145},{"cycle":920,"value":0.2176},{"cycle":940,"value":0.2236},{"cycle":960,"value":0.2272},{"cycle":980,"value":0.2316},{"cycle":1000,"value":0.2370}],
    "p5_center": [{"cycle":0,"value":0.0567},{"cycle":20,"value":0.0567},{"cycle":40,"value":0.0567},{"cycle":60,"value":0.0579},{"cycle":80,"value":0.0579},{"cycle":100,"value":0.0579},{"cycle":120,"value":0.0594},{"cycle":140,"value":0.0594},{"cycle":160,"value":0.0617},{"cycle":180,"value":0.0617},{"cycle":200,"value":0.0617},{"cycle":220,"value":0.0617},{"cycle":240,"value":0.0617},{"cycle":260,"value":0.0617},{"cycle":280,"value":0.0617},{"cycle":300,"value":0.0617},{"cycle":320,"value":0.0617},{"cycle":340,"value":0.0617},{"cycle":360,"value":0.0617},{"cycle":380,"value":0.0617},{"cycle":400,"value":0.0617},{"cycle":420,"value":0.0648},{"cycle":440,"value":0.0648},{"cycle":460,"value":0.0648},{"cycle":480,"value":0.0648},{"cycle":500,"value":0.0648},{"cycle":520,"value":0.0648},{"cycle":540,"value":0.0648},{"cycle":560,"value":0.0648},{"cycle":580,"value":0.0648},{"cycle":600,"value":0.0648},{"cycle":620,"value":0.0677},{"cycle":640,"value":0.0677},{"cycle":660,"value":0.0677},{"cycle":680,"value":0.0677},{"cycle":700,"value":0.0677},{"cycle":720,"value":0.0677},{"cycle":740,"value":0.0677},{"cycle":760,"value":0.0709},{"cycle":780,"value":0.0709},{"cycle":800,"value":0.0709},{"cycle":820,"value":0.0709},{"cycle":840,"value":0.0744},{"cycle":860,"value":0.0744},{"cycle":880,"value":0.0744},{"cycle":900,"value":0.0779},{"cycle":920,"value":0.0779},{"cycle":940,"value":0.0779},{"cycle":960,"value":0.0815},{"cycle":980,"value":0.0815},{"cycle":1000,"value":0.0815}],
    "p5_peak": [{"cycle":0,"value":0.0244},{"cycle":20,"value":0.0244},{"cycle":40,"value":0.0252},{"cycle":60,"value":0.0252},{"cycle":80,"value":0.0252},{"cycle":100,"value":0.0252},{"cycle":120,"value":0.0256},{"cycle":140,"value":0.0256},{"cycle":160,"value":0.0263},{"cycle":180,"value":0.0263},{"cycle":200,"value":0.0263},{"cycle":220,"value":0.0260},{"cycle":240,"value":0.0260},{"cycle":260,"value":0.0260},{"cycle":280,"value":0.0260},{"cycle":300,"value":0.0260},{"cycle":320,"value":0.0265},{"cycle":340,"value":0.0265},{"cycle":360,"value":0.0265},{"cycle":380,"value":0.0273},{"cycle":400,"value":0.0273},{"cycle":420,"value":0.0277},{"cycle":440,"value":0.0277},{"cycle":460,"value":0.0283},{"cycle":480,"value":0.0283},{"cycle":500,"value":0.0283},{"cycle":520,"value":0.0283},{"cycle":540,"value":0.0283},{"cycle":560,"value":0.0283},{"cycle":580,"value":0.0288},{"cycle":600,"value":0.0288},{"cycle":620,"value":0.0288},{"cycle":640,"value":0.0294},{"cycle":660,"value":0.0294},{"cycle":680,"value":0.0300},{"cycle":700,"value":0.0300},{"cycle":720,"value":0.0300},{"cycle":740,"value":0.0300},{"cycle":760,"value":0.0309},{"cycle":780,"value":0.0309},{"cycle":800,"value":0.0309},{"cycle":820,"value":0.0317},{"cycle":840,"value":0.0317},{"cycle":860,"value":0.0327},{"cycle":880,"value":0.0327},{"cycle":900,"value":0.0334},{"cycle":920,"value":0.0334},{"cycle":940,"value":0.0344},{"cycle":960,"value":0.0344},{"cycle":980,"value":0.0352},{"cycle":1000,"value":0.0363}]
  },
  "columns": 3,
  "spacing": {"row": 186, "column": 261},
  "bounds": "flush",
  "resolve": {
    "scale": {"color": "independent", "shape": "independent"},
    "legend": {"color": "independent", "shape": "independent"}
  },
  "concat": [
    {
      "title": "SOC 0%", "width": 860, "height": 692,
      "encoding": {
        "x": {"field": "cycle", "type": "quantitative", "scale": {"domain": [-100, 1100], "nice": false, "zero": false}, "axis": null},
        "y": {"field": "value", "type": "quantitative", "scale": {"domain": [-0.025, 0.375], "nice": false, "zero": false}, "axis": null}
      },
      "layer": [
        {"data": {"name": "p0_area"}, "mark": {"type": "line", "color": "#515151", "point": {"shape": "square", "size": 225, "filled": true, "opacity": 1, "color": "#515151"}},
         "encoding": {
           "x": {"field": "cycle", "type": "quantitative", "scale": {"domain": [-100, 1100], "nice": false, "zero": false}, "axis": {"values": [0, 200, 400, 600, 800, 1000], "format": "d", "title": "Number of Cycles"}},
           "y": {"field": "value", "type": "quantitative", "scale": {"domain": [-0.025, 0.375], "nice": false, "zero": false}, "axis": {"values": [0, 0.05, 0.1, 0.15, 0.2, 0.25, 0.3, 0.35], "format": ".2f", "title": "Value"}}}},
        {"data": {"name": "p0_fwhm"}, "mark": {"type": "line", "color": "#F14040", "point": {"shape": "circle", "size": 200, "filled": true, "opacity": 1, "color": "#F14040"}},
         "encoding": {
           "x": {"field": "cycle", "type": "quantitative", "scale": {"domain": [-100, 1100], "nice": false, "zero": false}, "axis": {"values": [-100, 100, 300, 500, 700, 900, 1100], "labels": false, "tickSize": 6, "title": null, "orient": "bottom"}},
           "y": {"field": "value", "type": "quantitative", "scale": {"domain": [-0.025, 0.375], "nice": false, "zero": false}, "axis": {"values": [-0.025, 0.025, 0.075, 0.125, 0.175, 0.225, 0.275, 0.325, 0.375], "labels": false, "tickSize": 6, "title": null, "orient": "left"}}}},
        {"data": {"name": "p0_center"}, "mark": {"type": "line", "color": "#1A6FDF", "point": {"shape": "triangle-up", "size": 330, "filled": true, "opacity": 1, "color": "#1A6FDF"}}},
        {"data": {"name": "p0_peak"}, "mark": {"type": "line", "color": "#37AD6B", "point": {"shape": "triangle-down", "size": 330, "filled": true, "opacity": 1, "color": "#37AD6B"}}},
        {"data": {"values": []}, "mark": {"type": "point", "filled": true, "opacity": 1},
         "encoding": {
           "color": {"field": "series", "type": "nominal", "title": null, "scale": {"domain": ["Area", "FWHM", "Center", "Peak Height"], "range": ["#515151", "#F14040", "#1A6FDF", "#37AD6B"]}},
           "shape": {"field": "series", "type": "nominal", "title": null, "scale": {"domain": ["Area", "FWHM", "Center", "Peak Height"], "range": ["M-1,-0.105H1V0.105H-1Z M-0.23,-0.23H0.23V0.23H-0.23Z", "M-1,-0.105H1V0.105H-1Z M-0.25,0A0.25,0.25 0 1,1 0.25,0A0.25,0.25 0 1,1 -0.25,0Z", "M-1,-0.105H1V0.105H-1Z M0,-0.26L0.29,0.23L-0.29,0.23Z", "M-1,-0.105H1V0.105H-1Z M0,0.26L-0.29,-0.23L0.29,-0.23Z"]}}}}
      ],
      "resolve": {"axis": {"x": "independent", "y": "independent"}}
    },
    {
      "title": "SOC 20%", "width": 860, "height": 692,
      "encoding": {
        "x": {"field": "cycle", "type": "quantitative", "scale": {"domain": [-100, 1100], "nice": false, "zero": false}, "axis": null},
        "y": {"field": "value", "type": "quantitative", "scale": {"domain": [-0.025, 0.375], "nice": false, "zero": false}, "axis": null}
      },
      "layer": [
        {"data": {"name": "p1_area"}, "mark": {"type": "line", "color": "#515151", "point": {"shape": "square", "size": 225, "filled": true, "opacity": 1, "color": "#515151"}},
         "encoding": {
           "x": {"field": "cycle", "type": "quantitative", "scale": {"domain": [-100, 1100], "nice": false, "zero": false}, "axis": {"values": [0, 200, 400, 600, 800, 1000], "format": "d", "title": "Number of Cycles"}},
           "y": {"field": "value", "type": "quantitative", "scale": {"domain": [-0.025, 0.375], "nice": false, "zero": false}, "axis": {"values": [0, 0.05, 0.1, 0.15, 0.2, 0.25, 0.3, 0.35], "format": ".2f", "title": "Value"}}}},
        {"data": {"name": "p1_fwhm"}, "mark": {"type": "line", "color": "#F14040", "point": {"shape": "circle", "size": 200, "filled": true, "opacity": 1, "color": "#F14040"}},
         "encoding": {
           "x": {"field": "cycle", "type": "quantitative", "scale": {"domain": [-100, 1100], "nice": false, "zero": false}, "axis": {"values": [-100, 100, 300, 500, 700, 900, 1100], "labels": false, "tickSize": 6, "title": null, "orient": "bottom"}},
           "y": {"field": "value", "type": "quantitative", "scale": {"domain": [-0.025, 0.375], "nice": false, "zero": false}, "axis": {"values": [-0.025, 0.025, 0.075, 0.125, 0.175, 0.225, 0.275, 0.325, 0.375], "labels": false, "tickSize": 6, "title": null, "orient": "left"}}}},
        {"data": {"name": "p1_center"}, "mark": {"type": "line", "color": "#1A6FDF", "point": {"shape": "triangle-up", "size": 330, "filled": true, "opacity": 1, "color": "#1A6FDF"}}},
        {"data": {"name": "p1_peak"}, "mark": {"type": "line", "color": "#37AD6B", "point": {"shape": "triangle-down", "size": 330, "filled": true, "opacity": 1, "color": "#37AD6B"}}},
        {"data": {"values": []}, "mark": {"type": "point", "filled": true, "opacity": 1},
         "encoding": {
           "color": {"field": "series", "type": "nominal", "title": null, "scale": {"domain": ["Area", "FWHM", "Center", "Peak Height"], "range": ["#515151", "#F14040", "#1A6FDF", "#37AD6B"]}},
           "shape": {"field": "series", "type": "nominal", "title": null, "scale": {"domain": ["Area", "FWHM", "Center", "Peak Height"], "range": ["M-1,-0.105H1V0.105H-1Z M-0.23,-0.23H0.23V0.23H-0.23Z", "M-1,-0.105H1V0.105H-1Z M-0.25,0A0.25,0.25 0 1,1 0.25,0A0.25,0.25 0 1,1 -0.25,0Z", "M-1,-0.105H1V0.105H-1Z M0,-0.26L0.29,0.23L-0.29,0.23Z", "M-1,-0.105H1V0.105H-1Z M0,0.26L-0.29,-0.23L0.29,-0.23Z"]}}}}
      ],
      "resolve": {"axis": {"x": "independent", "y": "independent"}}
    },
    {
      "title": "SOC 40%", "width": 860, "height": 692,
      "encoding": {
        "x": {"field": "cycle", "type": "quantitative", "scale": {"domain": [-100, 1100], "nice": false, "zero": false}, "axis": null},
        "y": {"field": "value", "type": "quantitative", "scale": {"domain": [-0.025, 0.375], "nice": false, "zero": false}, "axis": null}
      },
      "layer": [
        {"data": {"name": "p2_area"}, "mark": {"type": "line", "color": "#515151", "point": {"shape": "square", "size": 225, "filled": true, "opacity": 1, "color": "#515151"}},
         "encoding": {
           "x": {"field": "cycle", "type": "quantitative", "scale": {"domain": [-100, 1100], "nice": false, "zero": false}, "axis": {"values": [0, 200, 400, 600, 800, 1000], "format": "d", "title": "Number of Cycles"}},
           "y": {"field": "value", "type": "quantitative", "scale": {"domain": [-0.025, 0.375], "nice": false, "zero": false}, "axis": {"values": [0, 0.05, 0.1, 0.15, 0.2, 0.25, 0.3, 0.35], "format": ".2f", "title": "Value"}}}},
        {"data": {"name": "p2_fwhm"}, "mark": {"type": "line", "color": "#F14040", "point": {"shape": "circle", "size": 200, "filled": true, "opacity": 1, "color": "#F14040"}},
         "encoding": {
           "x": {"field": "cycle", "type": "quantitative", "scale": {"domain": [-100, 1100], "nice": false, "zero": false}, "axis": {"values": [-100, 100, 300, 500, 700, 900, 1100], "labels": false, "tickSize": 6, "title": null, "orient": "bottom"}},
           "y": {"field": "value", "type": "quantitative", "scale": {"domain": [-0.025, 0.375], "nice": false, "zero": false}, "axis": {"values": [-0.025, 0.025, 0.075, 0.125, 0.175, 0.225, 0.275, 0.325, 0.375], "labels": false, "tickSize": 6, "title": null, "orient": "left"}}}},
        {"data": {"name": "p2_center"}, "mark": {"type": "line", "color": "#1A6FDF", "point": {"shape": "triangle-up", "size": 330, "filled": true, "opacity": 1, "color": "#1A6FDF"}}},
        {"data": {"name": "p2_peak"}, "mark": {"type": "line", "color": "#37AD6B", "point": {"shape": "triangle-down", "size": 330, "filled": true, "opacity": 1, "color": "#37AD6B"}}},
        {"data": {"values": []}, "mark": {"type": "point", "filled": true, "opacity": 1},
         "encoding": {
           "color": {"field": "series", "type": "nominal", "title": null, "scale": {"domain": ["Area", "FWHM", "Center", "Peak Height"], "range": ["#515151", "#F14040", "#1A6FDF", "#37AD6B"]}},
           "shape": {"field": "series", "type": "nominal", "title": null, "scale": {"domain": ["Area", "FWHM", "Center", "Peak Height"], "range": ["M-1,-0.105H1V0.105H-1Z M-0.23,-0.23H0.23V0.23H-0.23Z", "M-1,-0.105H1V0.105H-1Z M-0.25,0A0.25,0.25 0 1,1 0.25,0A0.25,0.25 0 1,1 -0.25,0Z", "M-1,-0.105H1V0.105H-1Z M0,-0.26L0.29,0.23L-0.29,0.23Z", "M-1,-0.105H1V0.105H-1Z M0,0.26L-0.29,-0.23L0.29,-0.23Z"]}}}}
      ],
      "resolve": {"axis": {"x": "independent", "y": "independent"}}
    },
    {
      "title": "SOC 60%", "width": 860, "height": 692,
      "encoding": {
        "x": {"field": "cycle", "type": "quantitative", "scale": {"domain": [-100, 1100], "nice": false, "zero": false}, "axis": null},
        "y": {"field": "value", "type": "quantitative", "scale": {"domain": [-0.025, 0.375], "nice": false, "zero": false}, "axis": null}
      },
      "layer": [
        {"data": {"name": "p3_area"}, "mark": {"type": "line", "color": "#515151", "point": {"shape": "square", "size": 225, "filled": true, "opacity": 1, "color": "#515151"}},
         "encoding": {
           "x": {"field": "cycle", "type": "quantitative", "scale": {"domain": [-100, 1100], "nice": false, "zero": false}, "axis": {"values": [0, 200, 400, 600, 800, 1000], "format": "d", "title": "Number of Cycles"}},
           "y": {"field": "value", "type": "quantitative", "scale": {"domain": [-0.025, 0.375], "nice": false, "zero": false}, "axis": {"values": [0, 0.05, 0.1, 0.15, 0.2, 0.25, 0.3, 0.35], "format": ".2f", "title": "Value"}}}},
        {"data": {"name": "p3_fwhm"}, "mark": {"type": "line", "color": "#F14040", "point": {"shape": "circle", "size": 200, "filled": true, "opacity": 1, "color": "#F14040"}},
         "encoding": {
           "x": {"field": "cycle", "type": "quantitative", "scale": {"domain": [-100, 1100], "nice": false, "zero": false}, "axis": {"values": [-100, 100, 300, 500, 700, 900, 1100], "labels": false, "tickSize": 6, "title": null, "orient": "bottom"}},
           "y": {"field": "value", "type": "quantitative", "scale": {"domain": [-0.025, 0.375], "nice": false, "zero": false}, "axis": {"values": [-0.025, 0.025, 0.075, 0.125, 0.175, 0.225, 0.275, 0.325, 0.375], "labels": false, "tickSize": 6, "title": null, "orient": "left"}}}},
        {"data": {"name": "p3_center"}, "mark": {"type": "line", "color": "#1A6FDF", "point": {"shape": "triangle-up", "size": 330, "filled": true, "opacity": 1, "color": "#1A6FDF"}}},
        {"data": {"name": "p3_peak"}, "mark": {"type": "line", "color": "#37AD6B", "point": {"shape": "triangle-down", "size": 330, "filled": true, "opacity": 1, "color": "#37AD6B"}}},
        {"data": {"values": []}, "mark": {"type": "point", "filled": true, "opacity": 1},
         "encoding": {
           "color": {"field": "series", "type": "nominal", "title": null, "scale": {"domain": ["Area", "FWHM", "Center", "Peak Height"], "range": ["#515151", "#F14040", "#1A6FDF", "#37AD6B"]}},
           "shape": {"field": "series", "type": "nominal", "title": null, "scale": {"domain": ["Area", "FWHM", "Center", "Peak Height"], "range": ["M-1,-0.105H1V0.105H-1Z M-0.23,-0.23H0.23V0.23H-0.23Z", "M-1,-0.105H1V0.105H-1Z M-0.25,0A0.25,0.25 0 1,1 0.25,0A0.25,0.25 0 1,1 -0.25,0Z", "M-1,-0.105H1V0.105H-1Z M0,-0.26L0.29,0.23L-0.29,0.23Z", "M-1,-0.105H1V0.105H-1Z M0,0.26L-0.29,-0.23L0.29,-0.23Z"]}}}}
      ],
      "resolve": {"axis": {"x": "independent", "y": "independent"}}
    },
    {
      "title": "SOC 80%", "width": 860, "height": 692,
      "encoding": {
        "x": {"field": "cycle", "type": "quantitative", "scale": {"domain": [-100, 1100], "nice": false, "zero": false}, "axis": null},
        "y": {"field": "value", "type": "quantitative", "scale": {"domain": [-0.025, 0.375], "nice": false, "zero": false}, "axis": null}
      },
      "layer": [
        {"data": {"name": "p4_area"}, "mark": {"type": "line", "color": "#515151", "point": {"shape": "square", "size": 225, "filled": true, "opacity": 1, "color": "#515151"}},
         "encoding": {
           "x": {"field": "cycle", "type": "quantitative", "scale": {"domain": [-100, 1100], "nice": false, "zero": false}, "axis": {"values": [0, 200, 400, 600, 800, 1000], "format": "d", "title": "Number of Cycles"}},
           "y": {"field": "value", "type": "quantitative", "scale": {"domain": [-0.025, 0.375], "nice": false, "zero": false}, "axis": {"values": [0, 0.05, 0.1, 0.15, 0.2, 0.25, 0.3, 0.35], "format": ".2f", "title": "Value"}}}},
        {"data": {"name": "p4_fwhm"}, "mark": {"type": "line", "color": "#F14040", "point": {"shape": "circle", "size": 200, "filled": true, "opacity": 1, "color": "#F14040"}},
         "encoding": {
           "x": {"field": "cycle", "type": "quantitative", "scale": {"domain": [-100, 1100], "nice": false, "zero": false}, "axis": {"values": [-100, 100, 300, 500, 700, 900, 1100], "labels": false, "tickSize": 6, "title": null, "orient": "bottom"}},
           "y": {"field": "value", "type": "quantitative", "scale": {"domain": [-0.025, 0.375], "nice": false, "zero": false}, "axis": {"values": [-0.025, 0.025, 0.075, 0.125, 0.175, 0.225, 0.275, 0.325, 0.375], "labels": false, "tickSize": 6, "title": null, "orient": "left"}}}},
        {"data": {"name": "p4_center"}, "mark": {"type": "line", "color": "#1A6FDF", "point": {"shape": "triangle-up", "size": 330, "filled": true, "opacity": 1, "color": "#1A6FDF"}}},
        {"data": {"name": "p4_peak"}, "mark": {"type": "line", "color": "#37AD6B", "point": {"shape": "triangle-down", "size": 330, "filled": true, "opacity": 1, "color": "#37AD6B"}}},
        {"data": {"values": []}, "mark": {"type": "point", "filled": true, "opacity": 1},
         "encoding": {
           "color": {"field": "series", "type": "nominal", "title": null, "scale": {"domain": ["Area", "FWHM", "Center", "Peak Height"], "range": ["#515151", "#F14040", "#1A6FDF", "#37AD6B"]}},
           "shape": {"field": "series", "type": "nominal", "title": null, "scale": {"domain": ["Area", "FWHM", "Center", "Peak Height"], "range": ["M-1,-0.105H1V0.105H-1Z M-0.23,-0.23H0.23V0.23H-0.23Z", "M-1,-0.105H1V0.105H-1Z M-0.25,0A0.25,0.25 0 1,1 0.25,0A0.25,0.25 0 1,1 -0.25,0Z", "M-1,-0.105H1V0.105H-1Z M0,-0.26L0.29,0.23L-0.29,0.23Z", "M-1,-0.105H1V0.105H-1Z M0,0.26L-0.29,-0.23L0.29,-0.23Z"]}}}}
      ],
      "resolve": {"axis": {"x": "independent", "y": "independent"}}
    },
    {
      "title": "SOC 100%", "width": 860, "height": 692,
      "encoding": {
        "x": {"field": "cycle", "type": "quantitative", "scale": {"domain": [-100, 1100], "nice": false, "zero": false}, "axis": null},
        "y": {"field": "value", "type": "quantitative", "scale": {"domain": [-0.025, 0.375], "nice": false, "zero": false}, "axis": null}
      },
      "layer": [
        {"data": {"name": "p5_area"}, "mark": {"type": "line", "color": "#515151", "point": {"shape": "square", "size": 225, "filled": true, "opacity": 1, "color": "#515151"}},
         "encoding": {
           "x": {"field": "cycle", "type": "quantitative", "scale": {"domain": [-100, 1100], "nice": false, "zero": false}, "axis": {"values": [0, 200, 400, 600, 800, 1000], "format": "d", "title": "Number of Cycles"}},
           "y": {"field": "value", "type": "quantitative", "scale": {"domain": [-0.025, 0.375], "nice": false, "zero": false}, "axis": {"values": [0, 0.05, 0.1, 0.15, 0.2, 0.25, 0.3, 0.35], "format": ".2f", "title": "Value"}}}},
        {"data": {"name": "p5_fwhm"}, "mark": {"type": "line", "color": "#F14040", "point": {"shape": "circle", "size": 200, "filled": true, "opacity": 1, "color": "#F14040"}},
         "encoding": {
           "x": {"field": "cycle", "type": "quantitative", "scale": {"domain": [-100, 1100], "nice": false, "zero": false}, "axis": {"values": [-100, 100, 300, 500, 700, 900, 1100], "labels": false, "tickSize": 6, "title": null, "orient": "bottom"}},
           "y": {"field": "value", "type": "quantitative", "scale": {"domain": [-0.025, 0.375], "nice": false, "zero": false}, "axis": {"values": [-0.025, 0.025, 0.075, 0.125, 0.175, 0.225, 0.275, 0.325, 0.375], "labels": false, "tickSize": 6, "title": null, "orient": "left"}}}},
        {"data": {"name": "p5_center"}, "mark": {"type": "line", "color": "#1A6FDF", "point": {"shape": "triangle-up", "size": 330, "filled": true, "opacity": 1, "color": "#1A6FDF"}}},
        {"data": {"name": "p5_peak"}, "mark": {"type": "line", "color": "#37AD6B", "point": {"shape": "triangle-down", "size": 330, "filled": true, "opacity": 1, "color": "#37AD6B"}}},
        {"data": {"values": []}, "mark": {"type": "point", "filled": true, "opacity": 1},
         "encoding": {
           "color": {"field": "series", "type": "nominal", "title": null, "scale": {"domain": ["Area", "FWHM", "Center", "Peak Height"], "range": ["#515151", "#F14040", "#1A6FDF", "#37AD6B"]}},
           "shape": {"field": "series", "type": "nominal", "title": null, "scale": {"domain": ["Area", "FWHM", "Center", "Peak Height"], "range": ["M-1,-0.105H1V0.105H-1Z M-0.23,-0.23H0.23V0.23H-0.23Z", "M-1,-0.105H1V0.105H-1Z M-0.25,0A0.25,0.25 0 1,1 0.25,0A0.25,0.25 0 1,1 -0.25,0Z", "M-1,-0.105H1V0.105H-1Z M0,-0.26L0.29,0.23L-0.29,0.23Z", "M-1,-0.105H1V0.105H-1Z M0,0.26L-0.29,-0.23L0.29,-0.23Z"]}}}}
      ],
      "resolve": {"axis": {"x": "independent", "y": "independent"}}
    }
  ]
}
